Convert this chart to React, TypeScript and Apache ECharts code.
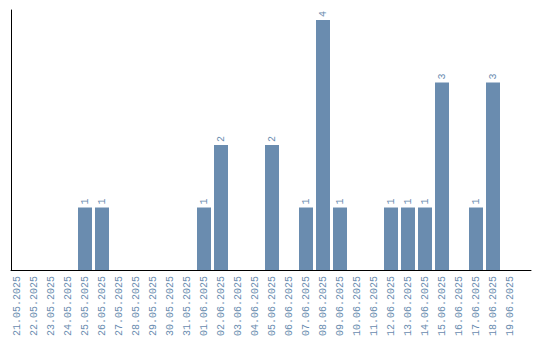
import React, { useEffect, useRef } from "react";
import * as echarts from "echarts";

const dates = [
  "21.05.2025", "22.05.2025", "23.05.2025", "24.05.2025", "25.05.2025",
  "26.05.2025", "27.05.2025", "28.05.2025", "29.05.2025", "30.05.2025",
  "31.05.2025", "01.06.2025", "02.06.2025", "03.06.2025", "04.06.2025",
  "05.06.2025", "06.06.2025", "07.06.2025", "08.06.2025", "09.06.2025",
  "10.06.2025", "11.06.2025", "12.06.2025", "13.06.2025", "14.06.2025",
  "15.06.2025", "16.06.2025", "17.06.2025", "18.06.2025", "19.06.2025",
];
const counts = [
  0, 0, 0, 0, 1,
  1, 0, 0, 0, 0,
  0, 1, 2, 0, 0,
  2, 0, 1, 4, 1,
  0, 0, 1, 1, 1,
  3, 0, 1, 3, 0,
];

const BLUE = "#6a8caf";
const FONT = "Liberation Mono";

export default function App() {
  const ref = useRef<HTMLDivElement>(null);
  useEffect(() => {
    if (!ref.current) return;
    const chart = echarts.init(ref.current, null, { renderer: "svg" });
    chart.setOption({
      animation: false,
      grid: [
        { left: 8.5, top: 10, width: 510, height: 260 },
        { left: 11, top: 10, width: 520, height: 260 },
      ],
      xAxis: [
        {
          type: "category",
          gridIndex: 0,
          data: dates,
          axisLine: { show: false },
          axisTick: { show: false },
          axisLabel: {
            rotate: 90,
            interval: 0,
            margin: 6,
            color: BLUE,
            fontFamily: FONT,
            fontSize: 10,
          },
        },
        {
          type: "value",
          gridIndex: 1,
          min: 0,
          max: 1,
          axisLine: { show: true, lineStyle: { color: "#000", width: 1 } },
          axisTick: { show: false },
          axisLabel: { show: false },
          splitLine: { show: false },
        },
      ],
      yAxis: [
        {
          type: "value",
          gridIndex: 0,
          min: 0,
          max: 4.16,
          show: false,
          splitLine: { show: false },
        },
        {
          type: "value",
          gridIndex: 1,
          min: 0,
          max: 1,
          axisLine: { show: true, lineStyle: { color: "#000", width: 1 } },
          axisTick: { show: false },
          axisLabel: { show: false },
          splitLine: { show: false },
        },
      ],
      series: [
        {
          type: "bar",
          xAxisIndex: 0,
          yAxisIndex: 0,
          data: counts.map((v) => (v === 0 ? null : v)),
          barWidth: 14,
          itemStyle: { color: BLUE },
          label: {
            show: true,
            position: "top",
            rotate: 90,
            align: "left",
            verticalAlign: "middle",
            distance: 3,
            color: BLUE,
            fontFamily: FONT,
            fontSize: 10,
          },
        },
      ],
    });
    return () => chart.dispose();
  }, []);
  return <div ref={ref} style={{ width: 540, height: 340, position: "absolute", left: 0, top: 0 }} />;
}
